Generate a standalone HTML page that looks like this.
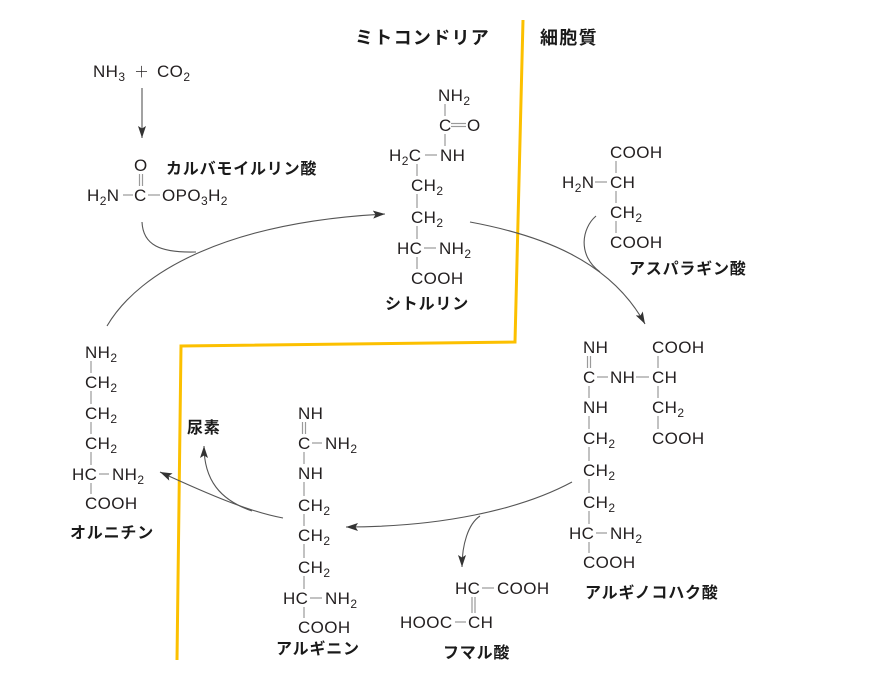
<!DOCTYPE html>
<html><head><meta charset="utf-8">
<style>
html,body{margin:0;padding:0;background:#fff;}
svg{display:block;}
.c{font-family:"Liberation Sans",Arial,sans-serif;font-size:17px;fill:#231f20;letter-spacing:0.4px;}
.j{font-family:"Liberation Sans","Noto Sans CJK JP",sans-serif;font-size:16px;font-weight:bold;fill:#1a1a1a;letter-spacing:0.8px;}
.t{font-family:"Liberation Sans","Noto Sans CJK JP",sans-serif;font-size:18px;font-weight:bold;fill:#1a1a1a;letter-spacing:1.3px;}
.b{stroke:#9a9a9a;stroke-width:1.2;fill:none;}
.a{stroke:#555;stroke-width:1.1;fill:none;}
</style></head>
<body>
<svg width="876" height="688" viewBox="0 0 876 688" xmlns="http://www.w3.org/2000/svg">
<defs>
<marker id="ah" markerUnits="userSpaceOnUse" markerWidth="14" markerHeight="10" refX="12" refY="4" orient="auto">
<path d="M0,0 L12,4 L0,8 L2.5,4 z" fill="#333"/>
</marker>
</defs>

<!-- membrane -->
<polyline points="523,20 515,342 181,346 177,660" fill="none" stroke="#fcc000" stroke-width="3"/>

<!-- titles -->
<text class="t" x="355" y="44">ミトコンドリア</text>
<text class="t" x="540" y="44">細胞質</text>

<!-- NH3 + CO2 -->
<text class="c" x="93" y="77">NH<tspan font-size="12" dy="4">3</tspan></text>
<text x="134" y="77" style="font-family:'Noto Sans CJK JP',sans-serif;font-size:15px;font-weight:300;fill:#231f20">＋</text>
<text class="c" x="157" y="77">CO<tspan font-size="12" dy="4">2</tspan></text>
<line class="a" x1="142" y1="88" x2="142" y2="138" marker-end="url(#ah)"/>

<!-- carbamoyl phosphate -->
<text class="c" x="134" y="171">O</text>
<line class="b" x1="139.5" y1="174" x2="139.5" y2="186"/>
<line class="b" x1="142.5" y1="174" x2="142.5" y2="186"/>
<text class="c" x="87" y="201">H<tspan font-size="12" dy="4">2</tspan><tspan dy="-4">N</tspan></text>
<line class="b" x1="123" y1="195" x2="133" y2="195"/>
<text class="c" x="134" y="201">C</text>
<line class="b" x1="148" y1="195" x2="160" y2="195"/>
<text class="c" x="162" y="201">OPO<tspan font-size="12" dy="4">3</tspan><tspan dy="-4">H</tspan><tspan font-size="12" dy="4">2</tspan></text>
<text class="j" x="166" y="174">カルバモイルリン酸</text>

<!-- citrulline -->
<text class="c" x="438" y="101">NH<tspan font-size="12" dy="4">2</tspan></text>
<line class="b" x1="445" y1="104" x2="445" y2="116"/>
<text class="c" x="439" y="131">C</text>
<line class="b" x1="451" y1="123.5" x2="466" y2="123.5"/>
<line class="b" x1="451" y1="126.5" x2="466" y2="126.5"/>
<text class="c" x="467" y="131">O</text>
<line class="b" x1="445" y1="134" x2="445" y2="146"/>
<text class="c" x="389" y="161">H<tspan font-size="12" dy="4">2</tspan><tspan dy="-4">C</tspan></text>
<line class="b" x1="425" y1="155" x2="437" y2="155"/>
<text class="c" x="440" y="161">NH</text>
<line class="b" x1="417" y1="164" x2="417" y2="176"/>
<text class="c" x="411" y="191">CH<tspan font-size="12" dy="4">2</tspan></text>
<line class="b" x1="417" y1="194" x2="417" y2="208"/>
<text class="c" x="411" y="223">CH<tspan font-size="12" dy="4">2</tspan></text>
<line class="b" x1="417" y1="226" x2="417" y2="239"/>
<text class="c" x="397" y="254">HC</text>
<line class="b" x1="424" y1="248" x2="436" y2="248"/>
<text class="c" x="439" y="254">NH<tspan font-size="12" dy="4">2</tspan></text>
<line class="b" x1="417" y1="257" x2="417" y2="269"/>
<text class="c" x="411" y="284">COOH</text>
<text class="j" x="385" y="309">シトルリン</text>

<!-- aspartate -->
<text class="c" x="610" y="158">COOH</text>
<line class="b" x1="616" y1="161" x2="616" y2="173"/>
<text class="c" x="562" y="188">H<tspan font-size="12" dy="4">2</tspan><tspan dy="-4">N</tspan></text>
<line class="b" x1="595" y1="182" x2="607" y2="182"/>
<text class="c" x="610" y="188">CH</text>
<line class="b" x1="616" y1="191" x2="616" y2="203"/>
<text class="c" x="610" y="218">CH<tspan font-size="12" dy="4">2</tspan></text>
<line class="b" x1="616" y1="221" x2="616" y2="233"/>
<text class="c" x="610" y="248">COOH</text>
<text class="j" x="629" y="274">アスパラギン酸</text>

<!-- argininosuccinate -->
<text class="c" x="583" y="353">NH</text>
<text class="c" x="652" y="353">COOH</text>
<line class="b" x1="587.5" y1="356" x2="587.5" y2="368"/>
<line class="b" x1="590.5" y1="356" x2="590.5" y2="368"/>
<line class="b" x1="658" y1="356" x2="658" y2="368"/>
<text class="c" x="583" y="383">C</text>
<line class="b" x1="597" y1="377" x2="608" y2="377"/>
<text class="c" x="610" y="383">NH</text>
<line class="b" x1="636" y1="377" x2="649" y2="377"/>
<text class="c" x="652" y="383">CH</text>
<line class="b" x1="589" y1="386" x2="589" y2="398"/>
<line class="b" x1="658" y1="386" x2="658" y2="398"/>
<text class="c" x="583" y="413">NH</text>
<text class="c" x="652" y="413">CH<tspan font-size="12" dy="4">2</tspan></text>
<line class="b" x1="589" y1="416" x2="589" y2="429"/>
<line class="b" x1="658" y1="416" x2="658" y2="429"/>
<text class="c" x="583" y="444">CH<tspan font-size="12" dy="4">2</tspan></text>
<text class="c" x="652" y="444">COOH</text>
<line class="b" x1="589" y1="447" x2="589" y2="461"/>
<text class="c" x="583" y="476">CH<tspan font-size="12" dy="4">2</tspan></text>
<line class="b" x1="589" y1="479" x2="589" y2="493"/>
<text class="c" x="583" y="508">CH<tspan font-size="12" dy="4">2</tspan></text>
<line class="b" x1="589" y1="511" x2="589" y2="524"/>
<text class="c" x="569" y="539">HC</text>
<line class="b" x1="596" y1="533" x2="607" y2="533"/>
<text class="c" x="610" y="539">NH<tspan font-size="12" dy="4">2</tspan></text>
<line class="b" x1="589" y1="542" x2="589" y2="553"/>
<text class="c" x="583" y="568">COOH</text>
<text class="j" x="585" y="598">アルギノコハク酸</text>

<!-- fumarate -->
<text class="c" x="455" y="594">HC</text>
<line class="b" x1="482" y1="588" x2="494" y2="588"/>
<text class="c" x="497" y="594">COOH</text>
<line class="b" x1="472" y1="597" x2="472" y2="613"/>
<line class="b" x1="475" y1="597" x2="475" y2="613"/>
<text class="c" x="400" y="628">HOOC</text>
<line class="b" x1="455" y1="622" x2="466" y2="622"/>
<text class="c" x="468" y="628">CH</text>
<text class="j" x="443" y="658">フマル酸</text>

<!-- arginine -->
<text class="c" x="298" y="419">NH</text>
<line class="b" x1="302.5" y1="422" x2="302.5" y2="434"/>
<line class="b" x1="305.5" y1="422" x2="305.5" y2="434"/>
<text class="c" x="298" y="449">C</text>
<line class="b" x1="312" y1="443" x2="322" y2="443"/>
<text class="c" x="325" y="449">NH<tspan font-size="12" dy="4">2</tspan></text>
<line class="b" x1="304" y1="452" x2="304" y2="464"/>
<text class="c" x="298" y="479">NH</text>
<line class="b" x1="304" y1="482" x2="304" y2="496"/>
<text class="c" x="298" y="511">CH<tspan font-size="12" dy="4">2</tspan></text>
<line class="b" x1="304" y1="514" x2="304" y2="526"/>
<text class="c" x="298" y="541">CH<tspan font-size="12" dy="4">2</tspan></text>
<line class="b" x1="304" y1="544" x2="304" y2="558"/>
<text class="c" x="298" y="573">CH<tspan font-size="12" dy="4">2</tspan></text>
<line class="b" x1="304" y1="576" x2="304" y2="589"/>
<text class="c" x="283" y="604">HC</text>
<line class="b" x1="310" y1="598" x2="322" y2="598"/>
<text class="c" x="325" y="604">NH<tspan font-size="12" dy="4">2</tspan></text>
<line class="b" x1="304" y1="607" x2="304" y2="618"/>
<text class="c" x="298" y="633">COOH</text>
<text class="j" x="276" y="654">アルギニン</text>
<text class="j" x="187" y="433">尿素</text>

<!-- ornithine -->
<text class="c" x="85" y="358">NH<tspan font-size="12" dy="4">2</tspan></text>
<line class="b" x1="91" y1="361" x2="91" y2="373"/>
<text class="c" x="85" y="388">CH<tspan font-size="12" dy="4">2</tspan></text>
<line class="b" x1="91" y1="391" x2="91" y2="404"/>
<text class="c" x="85" y="419">CH<tspan font-size="12" dy="4">2</tspan></text>
<line class="b" x1="91" y1="422" x2="91" y2="434"/>
<text class="c" x="85" y="449">CH<tspan font-size="12" dy="4">2</tspan></text>
<line class="b" x1="91" y1="452" x2="91" y2="465"/>
<text class="c" x="72" y="480">HC</text>
<line class="b" x1="99" y1="474" x2="109" y2="474"/>
<text class="c" x="112" y="480">NH<tspan font-size="12" dy="4">2</tspan></text>
<line class="b" x1="91" y1="483" x2="91" y2="494"/>
<text class="c" x="85" y="509">COOH</text>
<text class="j" x="70" y="538">オルニチン</text>

<!-- arrows -->
<path class="a" d="M107,326 C140,270 230,222 385,214" marker-end="url(#ah)"/>
<path class="a" d="M142,222 C143,245 160,253 196,252"/>
<path class="a" d="M470,222 C540,235 610,260 645,324" marker-end="url(#ah)"/>
<path class="a" d="M596,216 C582,228 577,255 600,272"/>
<path class="a" d="M572,482 C520,510 440,527 346,527" marker-end="url(#ah)"/>
<path class="a" d="M480,516 C468,524 462,545 462,567" marker-end="url(#ah)"/>
<path class="a" d="M283,518 C250,512 210,495 160,472" marker-end="url(#ah)"/>
<path class="a" d="M252,511 C220,500 204,480 204,446" marker-end="url(#ah)"/>
</svg>
</body></html>
